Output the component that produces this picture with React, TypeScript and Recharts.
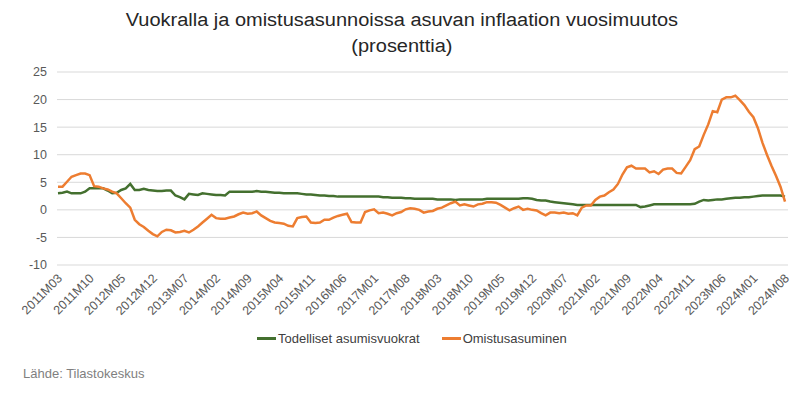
import { LineChart, Line, XAxis, YAxis, CartesianGrid } from 'recharts';

// Monthly labels 2011M03 .. 2024M08
const startYear = 2011;
const startMonth = 3;
const monthCount = 162;
const months: string[] = [];
for (let k = 0; k < monthCount; k++) {
  const m = startMonth - 1 + k;
  const year = startYear + Math.floor(m / 12);
  const mm = (m % 12) + 1;
  months.push(`${year}M${mm < 10 ? '0' + mm : mm}`);
}

// Todelliset asumisvuokrat (%)
const rents = [
  3.0, 3.1, 3.3, 3.0, 3.0, 3.0, 3.3, 3.9, 3.9, 3.9, 3.9, 3.5, 3.0, 3.1, 3.6, 3.9, 4.7, 3.6, 3.6, 3.8, 3.6, 3.5, 3.4, 3.4, 3.5,
  3.5, 2.6, 2.3, 1.9, 2.9, 2.8, 2.7, 3.0, 2.9, 2.8, 2.7, 2.7, 2.6, 3.3, 3.3, 3.3, 3.3, 3.3, 3.3, 3.4, 3.3, 3.3, 3.2, 3.1, 3.1, 3.0, 3.0,
  3.0, 3.0, 2.9, 2.8, 2.8, 2.7, 2.6, 2.6, 2.5, 2.5, 2.4, 2.4, 2.4, 2.4, 2.4, 2.4, 2.4, 2.4, 2.4, 2.4, 2.3, 2.3, 2.2, 2.2, 2.2, 2.1, 2.1,
  2.0, 2.0, 2.0, 2.0, 2.0, 1.9, 1.9, 1.9, 1.9, 1.8, 1.9, 1.9, 1.9, 1.9, 1.9, 1.9, 2.0, 2.0, 2.0, 2.0, 2.0, 2.0, 2.0, 2.0, 2.1,
  2.1, 2.0, 1.8, 1.7, 1.7, 1.5, 1.4, 1.3, 1.2, 1.1, 1.0, 0.9, 0.9, 0.9, 0.9, 0.9, 0.9, 0.9, 0.9, 0.9, 0.9, 0.9, 0.9, 0.9, 0.9,
  0.5, 0.6, 0.8, 1.0, 1.0, 1.0, 1.0, 1.0, 1.0, 1.0, 1.0, 1.0, 1.1, 1.5, 1.8, 1.7, 1.8, 1.9, 1.9, 2.0, 2.1, 2.2, 2.2, 2.3, 2.3,
  2.4, 2.5, 2.6, 2.6, 2.6, 2.6, 2.6, 2.4,
];

// Omistusasuminen (%)
const owned = [
  4.2, 4.2, 5.1, 6.0, 6.3, 6.6, 6.6, 6.3, 4.3, 4.2, 3.9, 3.7, 3.3, 3.0, 2.1, 1.2, 0.4, -1.8, -2.6, -3.1, -3.8, -4.4, -4.8, -4.0, -3.6,
  -3.7, -4.1, -4.0, -3.8, -4.1, -3.6, -3.0, -2.3, -1.6, -0.9, -1.5, -1.6, -1.6, -1.4, -1.2, -0.8, -0.5, -0.7, -0.6, -0.3, -1.0, -1.5, -2.0, -2.3, -2.4, -2.5, -2.9,
  -3.0, -1.5, -1.3, -1.2, -2.3, -2.4, -2.3, -1.8, -1.8, -1.4, -1.1, -0.9, -0.7, -2.2, -2.3, -2.3, -0.4, -0.1, 0.1, -0.6, -0.5, -0.7, -1.0, -0.6, -0.4, 0.1, 0.3,
  0.2, 0.0, -0.5, -0.3, -0.2, 0.2, 0.4, 0.8, 1.2, 1.5, 0.8, 1.0, 0.8, 0.6, 1.0, 1.1, 1.4, 1.4, 1.3, 0.9, 0.4, -0.1, 0.3, 0.6, 0.0,
  0.2, 0.0, -0.1, -0.6, -1.0, -0.5, -0.5, -0.6, -0.5, -0.7, -0.6, -1.0, 0.4, 0.8, 0.8, 1.8, 2.4, 2.6, 3.2, 3.7, 4.7, 6.4, 7.7, 8.0, 7.5,
  7.5, 7.5, 6.8, 7.0, 6.5, 7.3, 7.5, 7.5, 6.7, 6.6, 7.8, 9.0, 11.0, 11.5, 13.6, 15.5, 17.9, 17.7, 20.0, 20.4, 20.4, 20.7, 19.9, 19.0, 17.8,
  16.8, 14.8, 12.2, 10.0, 8.0, 6.2, 4.2, 1.5,
];

const yTicks = [-10, -5, 0, 5, 10, 15, 20, 25];

const GREEN = '#44702f';
const ORANGE = '#ed7d31';
const FONT = '"Liberation Sans", Arial, sans-serif';

const data = months.map((m, i) => ({ m, rents: rents[i], owned: owned[i] }));

const XTick = (props: any) => {
  const { x, y, payload } = props;
  const ax = x + 5;
  const ay = y + 6;
  return (
    <text x={ax} y={ay} textAnchor="end" transform={`rotate(-45 ${ax} ${ay})`} fill="#595959" fontSize={12.5} fontFamily={FONT}>
      {payload.value}
    </text>
  );
};

export default function App() {
  return (
    <div style={{ position: 'absolute', left: 0, top: 0, width: 804, height: 395, background: '#fff', fontFamily: FONT }}>
      <div
        style={{
          position: 'absolute',
          top: 7,
          left: 0,
          width: 804,
          textAlign: 'center',
          fontSize: 18,
          lineHeight: '26px',
          color: '#262626',
          transform: 'scaleX(1.11)',
          transformOrigin: '403px 0',
        }}
      >
        Vuokralla ja omistusasunnoissa asuvan inflaation vuosimuutos
        <br />
        (prosenttia)
      </div>
      <div style={{ position: 'absolute', left: 0, top: 0 }}>
        <LineChart width={804} height={395} data={data} margin={{ top: 72, right: 16, bottom: 70, left: 0 }}>
          <CartesianGrid vertical={false} stroke="#d9d9d9" />
          <XAxis
            dataKey="m"
            interval={6}
            tickLine={false}
            axisLine={false}
            height={60}
            padding={{ left: 1, right: 3 }}
            tick={<XTick />}
          />
          <YAxis
            width={57}
            domain={[-10, 25]}
            ticks={yTicks}
            tickLine={false}
            axisLine={false}
            tickMargin={4}
            tick={{ fill: '#595959', fontSize: 12.5, fontFamily: FONT }}
          />
          <Line type="linear" dataKey="rents" stroke={GREEN} strokeWidth={2.5} dot={false} isAnimationActive={false} />
          <Line type="linear" dataKey="owned" stroke={ORANGE} strokeWidth={2.5} dot={false} isAnimationActive={false} />
        </LineChart>
      </div>
      <div style={{ position: 'absolute', top: 331, left: 257, display: 'flex', alignItems: 'center', fontSize: 13, color: '#404040', whiteSpace: 'nowrap' }}>
        <span style={{ display: 'inline-block', width: 19, height: 2.5, background: GREEN, marginRight: 2 }} />
        <span>Todelliset asumisvuokrat</span>
        <span style={{ display: 'inline-block', width: 19, height: 2.5, background: ORANGE, marginLeft: 22, marginRight: 2 }} />
        <span>Omistusasuminen</span>
      </div>
      <div style={{ position: 'absolute', top: 366, left: 23, fontSize: 13, color: '#7f7f7f' }}>Lähde: Tilastokeskus</div>
    </div>
  );
}
